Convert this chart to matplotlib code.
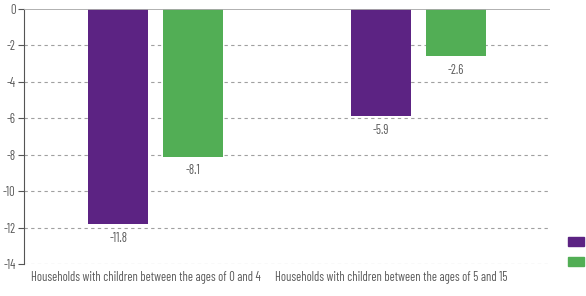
import matplotlib
matplotlib.use("Agg")
import matplotlib.pyplot as plt
import matplotlib.transforms as mtransforms
import numpy as np
from matplotlib import font_manager
from matplotlib.patches import Rectangle

categories = ["Households with children between the ages of 0 and 4",
              "Households with children between the ages of 5 and 15"]
series_a = [-11.8, -5.9]
series_b = [-8.1, -2.6]
yticks = [0, -2, -4, -6, -8, -10, -12, -14]

names = {f.name for f in font_manager.fontManager.ttflist}
fam = "DejaVu Sans"
for cand in ["Barlow Condensed", "Roboto Condensed", "Archivo Narrow", "Asap Condensed"]:
    if cand in names:
        fam = cand
        break
plt.rcParams['font.family'] = [fam, 'DejaVu Sans']

purple = "#5C2383"
green = "#52AE55"
tc = "#5a5a5a"
fs = 9

fig = plt.figure(figsize=(5.86, 2.96), dpi=100)
ax = fig.add_axes([24/586, (296-264)/296, 526/586, 255/296])

x = np.arange(len(categories))
w = 0.228
off = 0.142
ax.bar(x - off, series_a, w, color=purple, zorder=3)
ax.bar(x + off, series_b, w, color=green, zorder=3)
for xi, v in list(zip(x - off, series_a)) + list(zip(x + off, series_b)):
    ax.annotate(f"{v:.1f}", (xi, v), xytext=(0, -5.5), textcoords="offset points",
                ha="center", va="top", fontsize=fs, color=tc)

ax.set_xlim(-0.5, 1.5)
ax.set_ylim(-14, 0)
ax.set_yticks(yticks)
ax.set_yticklabels([str(t) for t in yticks], fontsize=fs, color=tc)
ax.set_xticks(x)
ax.set_xticklabels(categories, fontsize=fs, color=tc)
ax.tick_params(axis='x', length=0, pad=5)
ax.tick_params(axis='y', length=4, color="#555555", pad=2)
shifts = [-10, -27]
for lbl, dx in zip(ax.get_xticklabels(), shifts):
    lbl.set_transform(lbl.get_transform() + mtransforms.ScaledTranslation(dx/100, 0, fig.dpi_scale_trans))
for t in yticks[1:]:
    ax.axhline(t, color="#a0a0a0", lw=0.8, ls=(0, (3, 3)), zorder=1)
ax.axhline(0, color="#aaaaaa", lw=1.3, zorder=4)
for s in ["top", "right", "bottom"]:
    ax.spines[s].set_visible(False)
ax.spines["left"].set_color("#555555")
ax.spines["left"].set_linewidth(0.8)

fig.patches.append(Rectangle((568/586, (296-246)/296), 16/586, 9/296, transform=fig.transFigure, color=purple))
fig.patches.append(Rectangle((568/586, (296-266)/296), 16/586, 9/296, transform=fig.transFigure, color=green))

fig.savefig("out.png", dpi=100)
